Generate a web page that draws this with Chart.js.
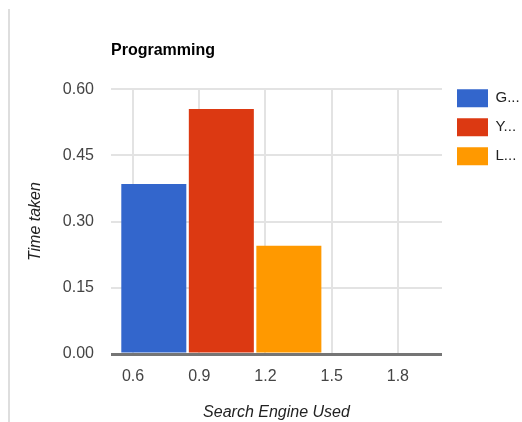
<!DOCTYPE html>
<html><head><meta charset="utf-8">
<script src="https://cdn.jsdelivr.net/npm/chart.js@4/dist/chart.umd.min.js"></script>
<style>
html,body{margin:0;padding:0;background:#fff;}
#wrap{position:relative;width:522px;height:422px;overflow:hidden;}
#edge{position:absolute;left:8px;top:9px;width:2px;height:413px;background:#dedede;}
canvas{position:absolute;left:0;top:0;}
</style></head><body>
<div id="wrap"><div id="edge"></div><canvas id="c" width="522" height="422"></canvas></div>
<script>
const chartTitle = 'Programming';
const seriesNames = ['G...', 'Y...', 'L...'];
const seriesValues = [0.385, 0.555, 0.245];
const groupX = 1;
const seriesColors = ['#3366cc', '#dc3912', '#ff9900'];
const xTicks = [0.6, 0.9, 1.2, 1.5, 1.8];
const yTicks = [0, 0.15, 0.30, 0.45, 0.60];
const xTitle = 'Search Engine Used';
const yTitle = 'Time taken';

const FONT = "'Liberation Sans', Arial, sans-serif";

const datasets = seriesNames.map((name, i) => ({
  label: name,
  data: [{x: groupX, y: seriesValues[i]}],
  backgroundColor: seriesColors[i],
  borderWidth: 0,
  categoryPercentage: 3.06,
  barPercentage: 0.963
}));

const legendAlign = {
  id: 'legendAlign',
  afterLayout(chart) {
    const L = chart.legend;
    if (!L) return;
    const pad = L.options.labels.padding;
    const dy = (chart.chartArea.top - pad) - L.top;
    L.top += dy; L.bottom += dy;
    const dx = (chart.chartArea.right + 15 - pad) - L.left;
    L.left += dx; L.right += dx;
  }
};

new Chart(document.getElementById('c'), {
  type: 'bar',
  data: { datasets },
  options: {
    responsive: false,
    devicePixelRatio: 1,
    animation: false,
    layout: { padding: 0 },
    plugins: {
      title: {
        display: true,
        text: chartTitle,
        align: 'start',
        fullSize: false,
        color: '#000',
        font: { family: FONT, size: 16, weight: 'bold' },
        padding: { top: 41, bottom: 29 }
      },
      legend: {
        position: 'right',
        align: 'start',
        maxWidth: 80,
        labels: {
          boxWidth: 31,
          boxHeight: 18,
          padding: 11,
          color: '#222',
          font: { family: FONT, size: 15 }
        }
      },
      tooltip: { enabled: false }
    },
    scales: {
      x: {
        type: 'linear',
        min: 0.5,
        max: 2.0,
        offset: false,
        afterBuildTicks: s => { s.ticks = xTicks.map(v => ({ value: v })); },
        afterFit: s => { s.height = 68; },
        grid: { offset: false, drawTicks: false, color: '#e3e3e3', lineWidth: 2 },
        border: { display: false },
        ticks: {
          padding: 13,
          color: '#444',
          font: { family: FONT, size: 16 },
          callback: v => v.toFixed(1)
        },
        title: {
          display: true,
          text: xTitle,
          color: '#222',
          font: { family: FONT, size: 16, style: 'italic' },
          padding: { top: 0, bottom: 0 }
        }
      },
      y: {
        min: 0,
        max: 0.6,
        afterBuildTicks: s => { s.ticks = yTicks.map(v => ({ value: v })); },
        afterFit: s => { s.width = 111; },
        grid: {
          drawTicks: false,
          color: c => (c.tick && c.tick.value === 0) ? '#757575' : '#e3e3e3',
          lineWidth: c => (c.tick && c.tick.value === 0) ? 3 : 2
        },
        border: { display: false },
        ticks: {
          padding: 17,
          color: '#444',
          font: { family: FONT, size: 16 },
          callback: v => v.toFixed(2)
        },
        title: {
          display: true,
          text: yTitle,
          color: '#222',
          font: { family: FONT, size: 16, style: 'italic' },
          padding: { top: 26, bottom: 0 }
        }
      }
    }
  },
  plugins: [legendAlign]
});
</script>
</body></html>
